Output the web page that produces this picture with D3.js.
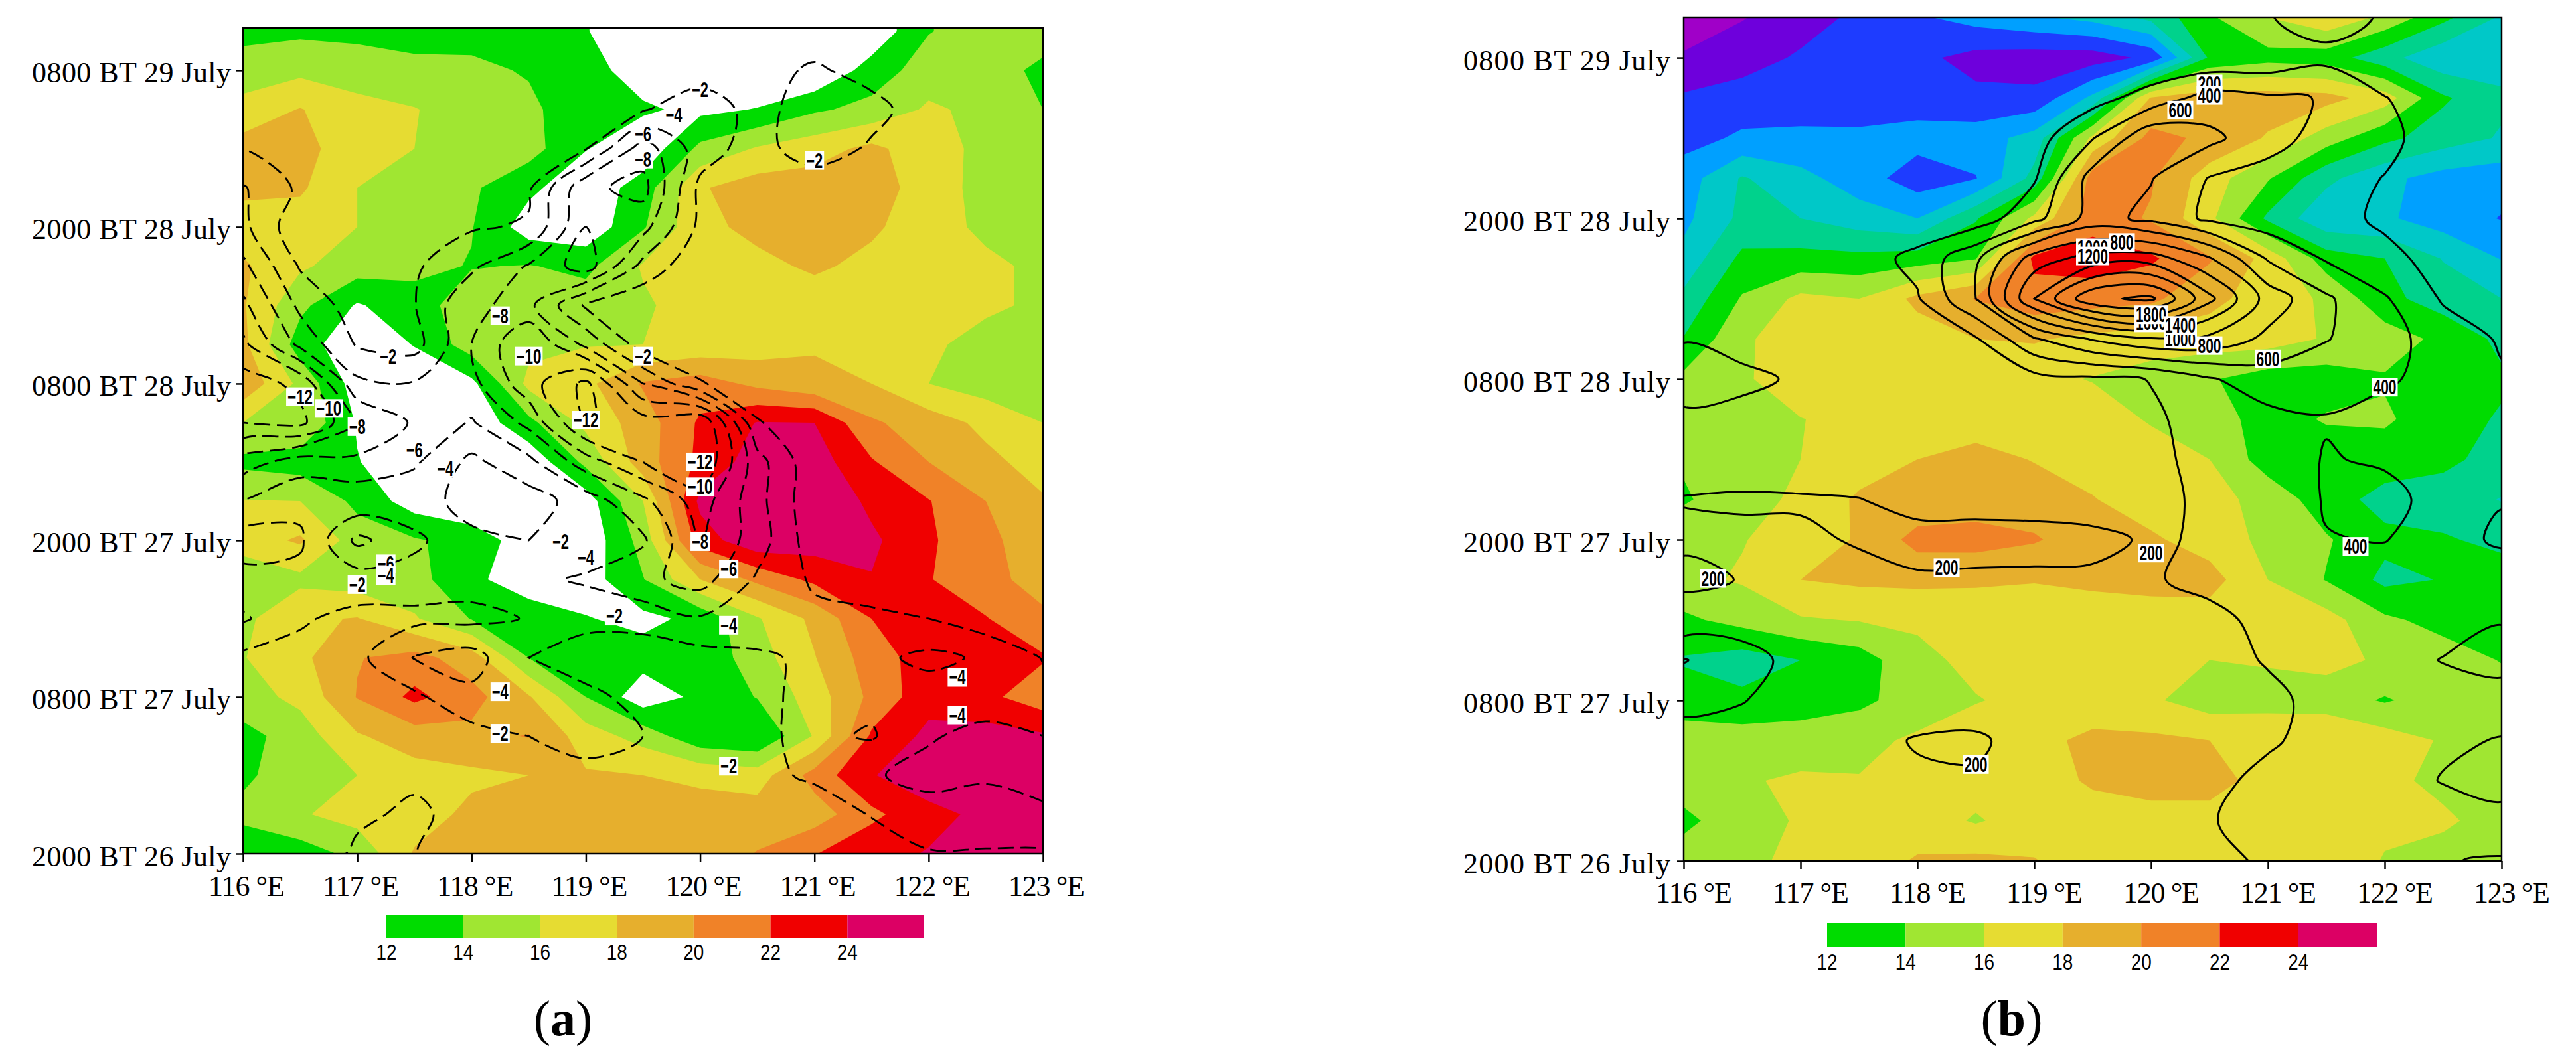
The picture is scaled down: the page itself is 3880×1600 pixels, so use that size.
<!DOCTYPE html>
<html>
<head>
<meta charset="utf-8">
<script src="https://cdnjs.cloudflare.com/ajax/libs/d3/7.8.5/d3.min.js"></script>
<style>
  body { margin: 0; background: #fff; }
  svg { display: block; }
</style>
</head>
<body>
<div id="chart"></div>
<script>
// grid axes of every field
var lons = [116, 116.5, 117, 117.5, 118, 118.5, 119, 119.5, 120, 120.5, 121, 121.5, 122, 122.5, 123];
var hours = [63, 60, 57, 54, 51, 48, 45, 42, 39, 36, 33, 30, 27, 24, 21, 18, 15, 12, 9, 6, 3, 0]; // hours after 2000 BT 26 July, rows below run top to bottom

var timeTicks = [0, 12, 24, 36, 48, 60];
var timeLabels = ["2000 BT 26 July", "0800 BT 27 July", "2000 BT 27 July", "0800 BT 28 July", "2000 BT 28 July", "0800 BT 29 July"];
var lonTicks = [116, 117, 118, 119, 120, 121, 122, 123];

var barTicks = [12, 14, 16, 18, 20, 22, 24, 26];
var barColors = ["#00dc00", "#a0e632", "#e6dc32", "#e6af2d", "#f08228", "#f00000", "#dc0064"];
var lowLevels = [2, 4, 6, 8, 10];
var lowColors = ["#6e00dc", "#1e3cff", "#00a0ff", "#00c8c8", "#00d28c"];
var lowestColor = "#a000c8";

var shadeA = [
  [13.5,13.6,13.5,13.3,13.2,13,12.1,10.5,10,10,10,10.5,13.9,15,15],
  [14.8,15.5,15,14.5,14.5,13.8,12.8,11,10,10,10,12.9,15,15,13.5],
  [16.8,18.1,16.7,16.1,15,14.5,12.5,12.3,11.5,12.1,13.7,14.6,16.3,15.5,14],
  [18.8,18.4,17.3,16,15.8,14.8,12.1,10.5,14.5,16.2,17.2,18.5,16.8,15.5,14],
  [18.5,18.3,16,14.8,14.3,12.5,10.5,13,17.8,19,19,19,17,15.3,15],
  [17,17,16,15,14.1,11,10.5,13.8,17.5,18.5,18.5,18.3,17,15.5,15],
  [18.3,16.3,15,14.5,13.9,14.1,13.5,16.2,17,17.5,18.3,17.5,17,16.5,15.5],
  [18.2,14.5,11.8,13.2,15,15,15,15.7,17,17,17,17,16.8,16.5,15.5],
  [18.5,13,10.5,12.1,15,15.5,15.9,16,16.5,17,17.8,16.8,16.5,15,15],
  [19.5,15.5,11,10.5,11.5,16.5,17.5,20.2,21,19.5,18.5,18,16,15,15],
  [16,15.8,11.8,11,10.5,13.5,16.5,19,22.3,24.1,24,20.3,19,17.5,16],
  [13.5,13,12.1,10.5,10,10.5,14.5,19,22.5,25,25,22.2,20,18.5,17.2],
  [16.1,16,13.5,11,10,10,11,16,24.5,26,26,23.5,22.1,20,18.2],
  [17,18.3,15,14.2,13.3,10.8,10.5,14.8,23,25.5,25,24.4,22.3,20.5,18.8],
  [14.5,15.5,15,14.8,12.2,11.5,11,13.9,18,20.5,22.5,23.9,22.1,20.8,19],
  [15.5,17.7,18.1,16.2,13.9,12.5,12.1,11.5,12.5,15.8,18.5,22,23,22.1,20.5],
  [15.9,17.5,19.9,20.7,19,14,13,12.8,12.5,15.1,17.9,21,23,23,22.2],
  [15.2,16.5,20.1,22.5,20.7,18.2,14,10.8,12.5,14.1,17,20.5,23.3,22.5,20.8],
  [13.3,15,17.8,19,19.5,20.1,17,15.2,12.5,12,16.2,22.3,24.5,24.8,24.3],
  [13.5,15.5,16,17.2,17.6,18,18.2,18,17.5,17,20.8,23.9,25,25.5,25.5],
  [14.7,15.8,16.8,17,18.5,19,19,19,19,19,19,21.5,23.5,24.4,25],
  [12.1,13,14.6,18.2,18.5,18.5,18.5,18.5,18.6,20.1,21.9,23.5,24.1,25,25]
];

var linesA = [
  [-.5,-.5,-.5,-.5,-.5,-.5,-.5,-.5,-.5,-.5,-.5,-.5,-.5,-.5,-.5],
  [-.5,-.5,-.5,-.5,-.5,-.5,-.5,-.5,-.7,-1,-2.4,-1,-.5,-.5,-.5],
  [0,0,0,0,0,-.3,-.8,-1.8,-3.6,-1,-3.5,-2.9,-.5,-.2,0],
  [-2,-1.5,-.5,-.3,-.5,-1,-1.9,-7,-3,-1,-3.5,-1.6,-.3,0,0],
  [-4.2,-1.6,-.4,-.2,-1,-1.7,-7.5,-8.7,-1.5,-.2,0,0,0,0,0],
  [-4.5,-.5,-.2,-.5,-1.8,-2.2,-8,-6.7,-1.5,-.2,0,0,0,0,0],
  [-6.5,-1.8,0,-1.7,-3.6,-6.2,-9,-3.3,-.5,0,0,0,0,0,0],
  [-8.5,-3.5,-1,-1.9,-5.7,-6.5,-1.7,-.5,0,0,0,0,0,0,0],
  [-10.5,-5.5,-1.8,-1.2,-6,-10,-5.5,-1,-.3,0,0,0,0,0,0],
  [-13,-11.5,-4.5,-4.2,-5.4,-9.2,-12.5,-6,-2.2,-.5,0,0,0,0,0],
  [-12,-12.5,-8.2,-5.7,-3.8,-6.5,-12.2,-11,-12,-2.2,-.3,0,0,0,0],
  [-7,-5,-5.5,-4.3,-1.5,-3.5,-7,-10,-12,-4.8,-.5,0,0,0,0],
  [-3.9,-2.5,-2.5,-2.6,-1.5,-1,-3,-5.5,-9,-4.7,-.5,0,0,0,0],
  [-1,-1.7,-6.5,-4.5,-2.3,-2,-2.5,-3.7,-8.2,-5,-.8,-.2,0,0,0],
  [-2.7,-2.6,-3,-3,-2.7,-3.5,-4.3,-5.5,-6.8,-3.7,-1.7,-.8,-.2,0,0],
  [-4.3,-2.2,-1.5,-1.5,-1.5,-2.1,-2.5,-2.8,-3.8,-3.9,-2.5,-2.5,-2,-.8,0],
  [-1.5,-1.5,-1.5,-4.1,-4.8,-2,-1.2,-.8,-1.2,-1.5,-2.6,-3.5,-4.5,-3.7,-1.9],
  [-1,-1,-1.2,-1.6,-3.5,-2.5,-2.4,-1.5,-1.3,-1.5,-2.6,-2.5,-3,-3.5,-2.8],
  [-.5,-.5,-.5,-1,-1.2,-2,-2.4,-2,-1.5,-1.7,-2.4,-1.8,-3.9,-4.3,-4],
  [-.3,-.3,-.5,-1.5,-1,-.8,-1.7,-1.8,-1.6,-1.5,-2.3,-3.9,-4.3,-4.2,-4.2],
  [0,-.5,-1.5,-2.5,-1,-.5,-.5,-.5,-.5,-.5,-1,-2.1,-3.6,-3.3,-3.9],
  [0,0,-2.5,-2.1,-.5,-.5,-.5,-.5,-.5,-.5,-.5,-1,-1.8,-1.8,-1.7]
];

var shadeB = [
  [1.5,1.9,3,4.5,5.7,6.8,7.7,8.6,10.5,13.7,16,17.5,15.5,12.5,9.7],
  [2.1,3,4.3,4.8,4.5,3.3,3,3,4.5,12.3,13.3,13,10.7,8.5,9],
  [4.3,5,4.8,5.2,5,4.5,4.5,8.5,18.2,19.2,19,18.7,17,12.3,10.4],
  [5.3,6.3,6.5,6.3,6.8,7,8.8,16.5,20.6,19.6,17.8,15,12.5,11,9.8],
  [7,10.2,8.6,7,4.9,5.9,10.7,21,20.2,17,14.2,10.5,8.5,7.2,6.8],
  [7.5,10.5,10,8.9,8,11.8,16.5,21,19.8,16.5,11.6,8.5,8.3,7,5.9],
  [8.6,12.5,12.7,12.6,13,13.9,22.5,23.2,22.3,20.2,17.3,13,12,9.9,7.9],
  [10.5,14.2,16.5,16,18.5,20.1,21.2,20.8,20.4,18.6,17,15.7,12.6,11,10],
  [12.1,15.7,17,17,17,18,18.2,17.5,17.2,17,17,15.8,15,13.5,11.5],
  [14.5,15.5,18,17,17,17,16.5,15.9,15,14.2,13,13,13.8,13.9,12.3],
  [15.5,15.3,15.9,17,17,17,16.5,17,15.8,15,13.1,14.2,14.3,12.8,11.8],
  [14.2,15,16,17,18,18.7,17.9,17.2,17,16,13,12.8,13,12.5,11.2],
  [13.8,15,16.5,18.3,18.6,19,19,18.1,17,16.7,15.3,12.9,11.3,11,9.9],
  [15.2,15.9,16.9,18.2,20.7,20.8,20.2,18.9,18.3,17.1,15.5,14.2,12.5,12.2,11.5],
  [15.5,16.2,18,18.4,18.5,18.3,18.1,18.4,18.7,18.8,16,13.9,11.5,12.1,13],
  [13.6,14.7,15.8,16.1,16.3,16.8,17,17,17,17,17,16.8,14.4,13.3,12.8],
  [11.8,11,12,13,15.5,16.5,17,17,16.7,16,16.2,16.6,15.7,15,13.9],
  [13,12.5,13,13.5,15,15.9,16.5,17,16.3,15,15.2,15,13.8,15,15],
  [15,15,15,15.5,16.3,17,17.5,18.4,18.4,18,17.7,17.9,17,15.8,15],
  [15,15.8,16.3,16.1,16.5,16.8,17,18.3,19,19,17,17,16.3,15.7,14.5],
  [13.5,15.2,16.2,17,17,15.8,17,17,17,17,17,17,16.3,16.2,15.5],
  [15,15.5,16.5,17,18.2,18.5,18.1,17,17,17,17,17,15.9,15.5,15]
];

var linesB = [
  [0,0,0,0,0,0,20,40,80,150,190,280,180,100,80],
  [30,30,30,30,30,30,40,30,30,40,60,150,100,70,50],
  [20,20,20,20,20,30,50,130,280,480,430,390,205,120,70],
  [30,30,30,30,30,40,120,390,750,650,470,330,240,120,80],
  [30,30,30,30,40,60,180,680,610,390,330,260,195,100,80],
  [30,30,30,40,50,90,340,680,550,360,290,240,180,100,70],
  [60,40,30,100,260,560,1100,1280,1300,1020,580,380,230,160,100],
  [100,60,40,60,180,600,1400,1960,2040,1450,920,630,420,180,100],
  [190,120,60,50,80,180,580,820,980,950,750,610,480,300,180],
  [290,250,170,100,100,110,130,160,205,380,510,470,420,350,220],
  [160,130,100,90,90,110,130,150,180,250,340,390,340,280,220],
  [100,80,80,80,80,80,90,140,170,240,320,410,380,280,220],
  [210,230,220,205,140,130,130,140,160,230,310,410,450,340,390],
  [160,150,170,215,260,270,260,230,185,215,300,395,405,330,430],
  [260,190,130,150,180,170,170,180,190,230,290,340,330,300,290],
  [60,100,100,100,100,100,100,120,130,170,230,270,290,300,390],
  [410,290,120,80,80,80,80,100,120,150,210,260,300,410,470],
  [270,210,100,80,50,60,80,90,100,130,170,240,270,290,310],
  [100,100,80,110,220,240,90,80,100,140,185,240,290,370,410],
  [80,80,80,90,160,170,90,90,110,170,230,260,310,410,480],
  [100,100,100,100,100,100,100,100,100,195,230,260,280,300,330],
  [80,80,80,80,80,80,80,90,100,170,215,240,300,395,410]
];

var levelsA = [-14, -12, -10, -8, -6, -4, -2];
var levelsB = [200, 400, 600, 800, 1000, 1200, 1400, 1600, 1800, 2000];

// contour labels: value, longitude, hour (later ones sit on top)
var labelsA = [
  ["−2",120,58.5],["−4",119.77,56.6],["−6",119.5,55.1],["−8",119.5,53.2],["−2",121,53.1],
  ["−8",118.25,41.2],["−10",118.5,38.1],["−2",119.5,38.1],["−2",117.27,38.1],
  ["−12",116.5,35],["−10",116.75,34.1],["−8",117,32.7],["−6",117.5,30.9],["−4",117.77,29.5],
  ["−12",119,33.2],["−10",120,28.1],["−12",120,30],["−8",120,23.9],["−6",120.25,21.8],
  ["−4",119,22.7],["−2",118.78,23.9],["−4",120.25,17.5],["−2",119.25,18.2],
  ["−6",117.25,22.2],["−4",117.25,21.3],["−2",117,20.6],["−4",118.25,12.4],["−2",118.25,9.2],
  ["−2",120.25,6.7],["−4",122.25,13.5],["−4",122.25,10.6]
];
var labelsB = [
  ["200",120.5,58.05],["400",120.5,57.2],["600",120.25,56.1],["1000",119.5,45.8],["1200",119.5,45.2],["800",119.75,46.2],
  ["1600",120,40.2],["1800",120,40.8],["1000",120.25,39],["1400",120.25,40],["800",120.5,38.5],
  ["600",121,37.5],["400",122,35.4],["200",120,23],["200",118.25,21.9],["200",116.25,21.1],
  ["400",121.75,23.5],["200",118.5,7.2]
];

var svg = d3.select("#chart").append("svg")
    .attr("width", 3880)
    .attr("height", 1600);

// rows come top to bottom, d3.contours gets them from hour 0 up, one spare row above the frame
function flatten(rows) {
    var top = rows[0];
    var up = rows.slice().reverse().concat([top]);
    return d3.merge(up);
}

function drawPanel(p) {
    var x = d3.scaleLinear().domain([116, 123]).range([p.left, p.right]);
    var y = d3.scaleLinear().domain([0, p.maxHour]).range([p.bottom, p.top]);
    var g = svg.append("g");

    var nx = lons.length, ny = hours.length + 1;
    function gx(px) { return x(lons[0] + (px - 0.5) * 0.5); }
    function gy(py) { return y((py - 0.5) * 3); }

    var path = d3.geoPath(d3.geoTransform({
        point: function(px, py) { this.stream.point(gx(px), gy(py)); }
    }));

    g.append("clipPath").attr("id", p.id)
      .append("rect")
        .attr("x", p.left).attr("y", p.top)
        .attr("width", p.right - p.left).attr("height", p.bottom - p.top);

    var plot = g.append("g").attr("clip-path", "url(#" + p.id + ")");

    plot.append("rect")
        .attr("x", p.left).attr("y", p.top)
        .attr("width", p.right - p.left).attr("height", p.bottom - p.top)
        .attr("fill", p.base);

    var levels = p.fillLevels;
    var fillColor = d3.scaleOrdinal().domain(levels).range(p.fillColors);
    plot.selectAll(".band")
        .data(d3.contours().size([nx, ny]).thresholds(levels)(flatten(p.shade)))
        .enter().append("path")
        .attr("class", "band")
        .attr("d", path)
        .attr("fill", function(d) { return fillColor(d.value); });

    // isolines, rounded a bit as the picture's are
    var ring = d3.line()
        .x(function(d) { return gx(d[0]); })
        .y(function(d) { return gy(d[1]); })
        .curve(d3.curveCatmullRomClosed.alpha(0.5));

    plot.selectAll(".iso")
        .data(d3.contours().size([nx, ny]).thresholds(p.lineLevels)(flatten(p.lines)))
        .enter().append("path")
        .attr("class", "iso")
        .attr("d", function(d) {
            return d.coordinates.map(function(poly) {
                return poly.map(function(r) { return ring(r.slice(0, -1)); }).join("");
            }).join("");
        })
        .attr("fill", "none")
        .attr("stroke", "#000")
        .attr("stroke-width", p.lineWidth)
        .attr("stroke-dasharray", p.dash);

    // isoline labels
    var lab = plot.selectAll(".lab").data(p.labels).enter().append("g")
        .attr("class", "lab")
        .attr("transform", function(d) { return "translate(" + x(d[1]) + "," + y(d[2]) + ")"; });
    lab.append("rect")
        .attr("x", function(d) { return -p.labelWidth(d[0]) / 2 - 2; })
        .attr("y", -14)
        .attr("width", function(d) { return p.labelWidth(d[0]) + 4; })
        .attr("height", 28)
        .attr("fill", "#fff");
    lab.append("text")
        .attr("y", 11)
        .attr("text-anchor", "middle")
        .attr("font-family", "Liberation Sans")
        .attr("font-size", 31)
        .attr("font-weight", "bold")
        .attr("textLength", function(d) { return p.labelWidth(d[0]); })
        .attr("lengthAdjust", "spacingAndGlyphs")
        .text(function(d) { return d[0]; });

    // frame and axes
    g.append("rect")
        .attr("x", p.left).attr("y", p.top)
        .attr("width", p.right - p.left).attr("height", p.bottom - p.top)
        .attr("fill", "none").attr("stroke", "#000").attr("stroke-width", 2.5);

    var ax = g.append("g")
        .attr("transform", "translate(0," + p.bottom + ")")
        .call(d3.axisBottom(x).tickValues(lonTicks).tickSize(12).tickSizeOuter(0)
            .tickFormat(function(d) { return d + " °E"; }));
    ax.select(".domain").remove();
    ax.selectAll("line").attr("stroke-width", 2.5);
    ax.selectAll("text")
        .attr("font-family", "Liberation Serif")
        .attr("font-size", 44)
        .attr("fill", "#000")
        .attr("dx", p.lonShift)
        .attr("y", p.lonBase)
        .attr("dy", 0)
        .attr("textLength", 115);

    var ay = g.append("g")
        .attr("transform", "translate(" + p.left + ",0)")
        .call(d3.axisLeft(y).tickValues(timeTicks).tickSize(10).tickSizeOuter(0)
            .tickFormat(function(d, i) { return timeLabels[i]; }));
    ay.select(".domain").remove();
    ay.selectAll("line").attr("stroke-width", 2.5);
    ay.selectAll("text")
        .attr("font-family", "Liberation Serif")
        .attr("font-size", 44)
        .attr("fill", "#000")
        .attr("x", -p.timePad)
        .attr("dy", 18)
        .attr("textLength", p.timeWidth);

    // colour key
    var k = d3.scaleLinear().domain([12, 26]).range([p.keyLeft, p.keyRight]);
    g.selectAll(".key")
        .data(barColors)
        .enter().append("rect")
        .attr("class", "key")
        .attr("x", function(d, i) { return k(barTicks[i]); })
        .attr("y", p.keyTop)
        .attr("width", function(d, i) { return k(barTicks[i + 1]) - k(barTicks[i]); })
        .attr("height", p.keyHeight)
        .attr("fill", function(d) { return d; });
    g.selectAll(".keylab")
        .data(barTicks.slice(0, -1))
        .enter().append("text")
        .attr("class", "keylab")
        .attr("x", function(d) { return k(d); })
        .attr("y", p.keyBase)
        .attr("text-anchor", "middle")
        .attr("font-family", "Liberation Sans")
        .attr("font-size", 33)
        .attr("textLength", 31)
        .attr("lengthAdjust", "spacingAndGlyphs")
        .text(function(d) { return d; });

    // panel letter
    var letter = g.append("text")
        .attr("x", p.letterX)
        .attr("y", 1560)
        .attr("text-anchor", "middle")
        .attr("font-family", "Liberation Serif")
        .attr("font-size", 76);
    letter.append("tspan").text("(");
    letter.append("tspan").attr("font-weight", "bold").text(p.letter);
    letter.append("tspan").text(")");
}

drawPanel({
    id: "clipA", letter: "a", letterX: 848,
    left: 366, right: 1571, top: 42, bottom: 1286, maxHour: 63.25,
    base: "#fff", shade: shadeA, lines: linesA,
    fillLevels: barTicks.slice(0, -1), fillColors: barColors,
    lineLevels: levelsA, lineWidth: 2.8, dash: "24 10",
    labels: labelsA,
    labelWidth: function(s) { return s.length > 2 ? 38 : 25; },
    lonShift: 5, lonBase: 64, timePad: 18, timeWidth: 300,
    keyLeft: 582, keyRight: 1392, keyTop: 1379, keyHeight: 34, keyBase: 1446
});

drawPanel({
    id: "clipB", letter: "b", letterX: 3030,
    left: 2536, right: 3768, top: 26, bottom: 1297, maxHour: 63.03,
    base: lowestColor, shade: shadeB, lines: linesB,
    fillLevels: lowLevels.concat(barTicks.slice(0, -1)), fillColors: lowColors.concat(barColors),
    lineLevels: levelsB, lineWidth: 3, dash: null,
    labels: labelsB,
    labelWidth: function(s) { return s.length > 3 ? 46 : 35; },
    lonShift: 15, lonBase: 63, timePad: 20, timeWidth: 312,
    keyLeft: 2752, keyRight: 3580, keyTop: 1391, keyHeight: 35, keyBase: 1461
});
</script>
</body>
</html>
